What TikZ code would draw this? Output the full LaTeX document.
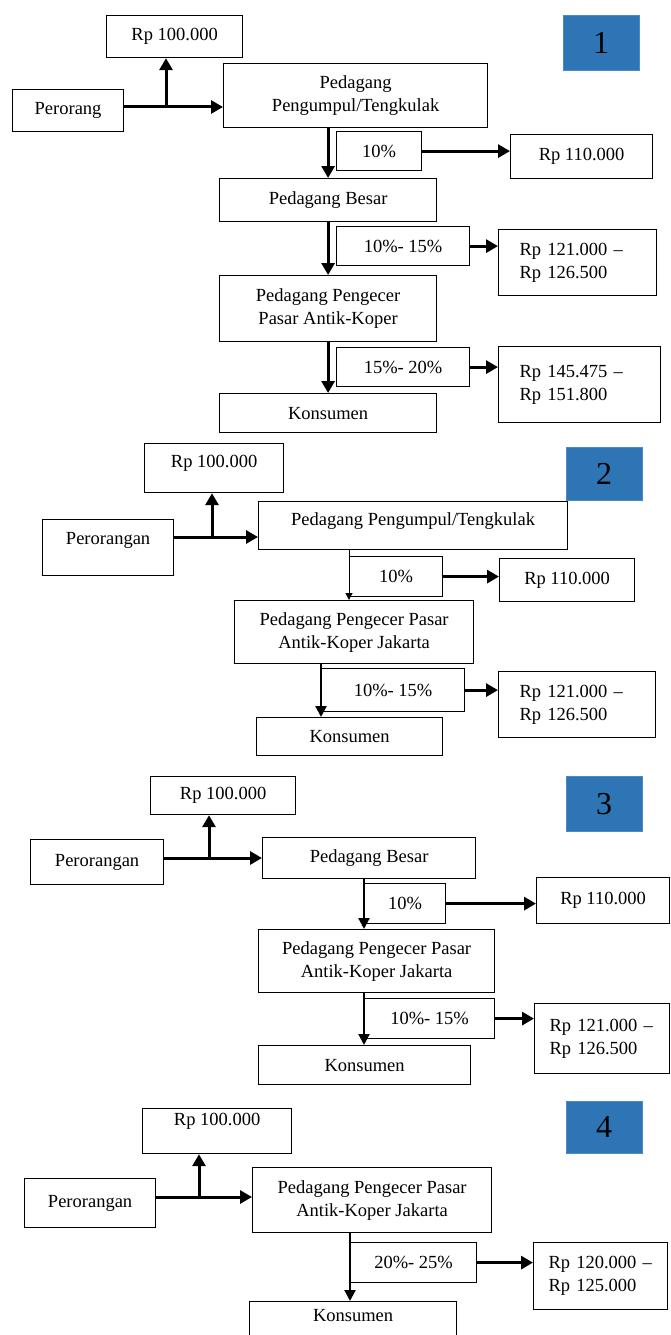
\documentclass[tikz,border=0pt]{standalone}
\usepackage{fontspec}
\setmainfont{Liberation Serif}
\usepackage{tikz}
\usetikzlibrary{arrows.meta}
\definecolor{badgeblue}{RGB}{46,117,182}

\begin{document}
\begin{tikzpicture}[x=1pt,y=-1pt,
  font=\fontsize{18.5}{23}\selectfont,
  box/.style={draw, line width=1.2pt, anchor=north west, inner sep=0pt, align=center},
  badge/.style={fill=badgeblue, draw=badgeblue!85!white, anchor=north west, inner sep=0pt,
    font=\fontsize{32}{34}\selectfont},
  fat/.style={line width=3pt, -{Triangle[length=12pt,width=13pt]}},
  mid/.style={line width=2.2pt, -{Triangle[length=11pt,width=11pt]}},
  slim/.style={line width=1pt, -{Triangle[length=7pt,width=7pt]}}]
\useasboundingbox (0,0) rectangle (671,1335);

\draw (106,15)  node (rpA1)   [box, minimum width=136pt, minimum height=42pt] {Rp 100.000};
\draw (563,15)  node (badge1) [badge, minimum width=76pt, minimum height=55pt] {1};
\draw (12,89)   node (per1)   [box, minimum width=111pt, minimum height=42pt] {Perorang};
\draw (223,63)  node (ped1)   [box, minimum width=264pt, minimum height=64pt] {Pedagang\\Pengumpul/Tengkulak};
\draw (336,131) node (pct1a)  [box, minimum width=85pt, minimum height=39pt] {10\%};
\draw (510,134) node (rpB1)   [box, minimum width=142pt, minimum height=44pt] {Rp 110.000};
\draw (219,178) node (bsr1)   [box, minimum width=217pt, minimum height=43pt] {Pedagang Besar};
\draw (336,226) node (pct1b)  [box, minimum width=133pt, minimum height=39pt] {10\%- 15\%};
\draw (498,229) node (rpC1)   [box, text width=116pt, inner xsep=21pt, minimum height=66pt, align=left] {Rp 121.000 –\\Rp 126.500};
\draw (219,275) node (pgc1)   [box, minimum width=217pt, minimum height=66pt] {Pedagang Pengecer\\Pasar Antik-Koper};
\draw (336,347) node (pct1c)  [box, minimum width=133pt, minimum height=39pt] {15\%- 20\%};
\draw (498,346) node (rpD1)   [box, text width=120pt, inner xsep=21pt, minimum height=76pt, align=left] {Rp 145.475 –\\Rp 151.800};
\draw (219,393) node (kon1)   [box, minimum width=217pt, minimum height=39pt] {Konsumen};
\coordinate (j1) at (166,107);
\draw[fat] (per1.east |- j1) -- (ped1.west |- j1);
\draw[fat] (j1) -- (j1 |- rpA1.south);
\draw[fat] (bsr1.north |- ped1.south) -- (bsr1.north);
\draw[fat] (pct1a.east) -- (rpB1.west |- pct1a.east);
\draw[fat] (bsr1.south) -- (pgc1.north);
\draw[fat] (pct1b.east) -- (rpC1.west |- pct1b.east);
\draw[fat] (pgc1.south) -- (kon1.north);
\draw[fat] (pct1c.east) -- (rpD1.west |- pct1c.east);

\draw (144,443) node (rpA2)   [box, minimum width=139pt, minimum height=49pt, text depth=14pt] {Rp 100.000};
\draw (566,447) node (badge2) [badge, minimum width=76pt, minimum height=53pt] {2};
\draw (42,519)  node (per2)   [box, minimum width=131pt, minimum height=56pt, text depth=18pt] {Perorangan};
\draw (258,501) node (ped2)   [box, minimum width=309pt, minimum height=48pt, text depth=14pt] {Pedagang Pengumpul/Tengkulak};
\draw (349,556) node (pct2a)  [box, minimum width=93pt, minimum height=40pt] {10\%};
\draw (499,558) node (rpB2)   [box, minimum width=135pt, minimum height=43pt] {Rp 110.000};
\draw (234,600) node (pgc2)   [box, minimum width=239pt, minimum height=63pt] {Pedagang Pengecer Pasar\\Antik-Koper Jakarta};
\draw (321,668) node (pct2b)  [box, minimum width=143pt, minimum height=43pt] {10\%- 15\%};
\draw (498,671) node (rpC2)   [box, text width=115pt, inner xsep=21pt, minimum height=66pt, align=left] {Rp 121.000 –\\Rp 126.500};
\draw (256,717) node (kon2)   [box, minimum width=186pt, minimum height=38pt] {Konsumen};
\coordinate (j2) at (212,537);
\draw[fat] (per2.east |- j2) -- (ped2.west |- j2);
\draw[fat] (j2) -- (j2 |- rpA2.south);
\draw[slim] (pct2a.west |- ped2.south) -- (pct2a.west |- pgc2.north);
\draw[fat] (pct2a.east) -- (rpB2.west |- pct2a.east);
\draw[mid] (pct2b.west |- pgc2.south) -- (pct2b.west |- kon2.north);
\draw[fat] (pct2b.east) -- (rpC2.west |- pct2b.east);

\draw (150,776) node (rpA3)   [box, minimum width=145pt, minimum height=38pt] {Rp 100.000};
\draw (566,776) node (badge3) [badge, minimum width=76pt, minimum height=55pt] {3};
\draw (30,839)  node (per3)   [box, minimum width=133pt, minimum height=45pt] {Perorangan};
\draw (262,837) node (bsr3)   [box, minimum width=213pt, minimum height=41pt] {Pedagang Besar};
\draw (364,883) node (pct3a)  [box, minimum width=81pt, minimum height=40pt] {10\%};
\draw (536,877) node (rpB3)   [box, minimum width=133pt, minimum height=46pt] {Rp 110.000};
\draw (258,929) node (pgc3)   [box, minimum width=236pt, minimum height=63pt] {Pedagang Pengecer Pasar\\Antik-Koper Jakarta};
\draw (364,998) node (pct3b)  [box, minimum width=130pt, minimum height=40pt] {10\%- 15\%};
\draw (534,1003) node (rpC3)  [box, text width=105pt, inner xsep=15pt, minimum height=70pt, align=left] {Rp 121.000 –\\Rp 126.500};
\draw (258,1045) node (kon3)  [box, minimum width=212pt, minimum height=39pt] {Konsumen};
\coordinate (j3) at (209,858);
\draw[fat] (per3.east |- j3) -- (bsr3.west |- j3);
\draw[fat] (j3) -- (j3 |- rpA3.south);
\draw[mid] (pct3a.west |- bsr3.south) -- (pct3a.west |- pgc3.north);
\draw[fat] (pct3a.east) -- (rpB3.west |- pct3a.east);
\draw[mid] (pct3b.west |- pgc3.south) -- (pct3b.west |- kon3.north);
\draw[fat] (pct3b.east) -- (rpC3.west |- pct3b.east);

\draw (142,1108) node (rpA4)   [box, minimum width=149pt, minimum height=45pt, text depth=24pt] {Rp 100.000};
\draw (566,1101) node (badge4) [badge, minimum width=76pt, minimum height=52pt] {4};
\draw (24,1178)  node (per4)   [box, minimum width=131pt, minimum height=49pt] {Perorangan};
\draw (252,1167) node (pgc4)   [box, minimum width=239pt, minimum height=65pt] {Pedagang Pengecer Pasar\\Antik-Koper Jakarta};
\draw (350,1242) node (pct4)   [box, minimum width=126pt, minimum height=40pt] {20\%- 25\%};
\draw (533,1242) node (rpE4)   [box, text width=104pt, inner xsep=15pt, minimum height=67pt, align=left] {Rp 120.000 –\\Rp 125.000};
\draw (249,1301) node (kon4)   [box, minimum width=207pt, minimum height=40pt, text depth=12pt] {Konsumen};
\coordinate (j4) at (199,1197);
\draw[fat] (per4.east |- j4) -- (pgc4.west |- j4);
\draw[fat] (j4) -- (j4 |- rpA4.south);
\draw[mid] (pct4.west |- pgc4.south) -- (pct4.west |- kon4.north);
\draw[fat] (pct4.east) -- (rpE4.west |- pct4.east);
\end{tikzpicture}
\end{document}
